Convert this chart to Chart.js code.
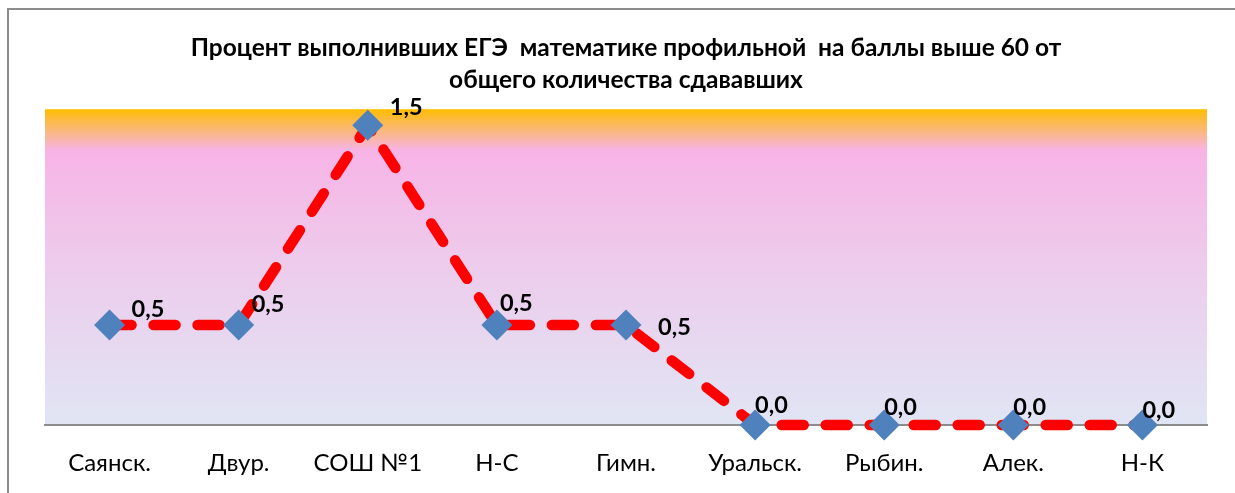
<!DOCTYPE html>
<html>
<head>
<meta charset="utf-8">
<script src="https://cdn.jsdelivr.net/npm/chart.js@4.4.1/dist/chart.umd.min.js"></script>
<style>
  html, body { margin: 0; padding: 0; background: #fff; overflow: hidden; }
  #wrap { position: relative; width: 1235px; height: 493px; }
  #frame { position: absolute; left: 7px; top: 8px; width: 1226px; height: 483px;
           border-left: 2px solid #8c8c8c; border-top: 2px solid #8c8c8c; }
  canvas { position: absolute; left: 0; top: 0; }
</style>
</head>
<body>
<div id="wrap">
  <div id="frame"></div>
  <canvas id="myChart" width="1235" height="493"></canvas>
</div>
<script>
const schools = ['Саянск.', 'Двур.', 'СОШ №1', 'Н-С', 'Гимн.', 'Уральск.', 'Рыбин.', 'Алек.', 'Н-К'];
const percents = [0.5, 0.5, 1.5, 0.5, 0.5, 0.0, 0.0, 0.0, 0.0];
const titleLines = ['Процент выполнивших ЕГЭ  математике профильной  на баллы выше 60 от', 'общего количества сдававших'];

// where each value label sits relative to its marker
const labelShift = [[22, -16], [13, -21], [22, -18], [3, -22], [32, 2], [0, -20], [0, -18], [0, -18], [0, -15]];

const ctx = document.getElementById('myChart');

const plotBackground = {
    id: 'plotBackground',
    beforeDraw(chart) {
        const {ctx, chartArea: a} = chart;
        const g = ctx.createLinearGradient(0, a.top, 0, a.bottom);
        g.addColorStop(0, '#FFBE00');
        g.addColorStop(0.03, '#FDBA3A');
        g.addColorStop(0.13, '#F7B4E6');
        g.addColorStop(0.5, '#EDCCEC');
        g.addColorStop(1, '#E0E5F4');
        ctx.save();
        ctx.fillStyle = g;
        ctx.fillRect(a.left, a.top, a.right - a.left, a.bottom - a.top);
        ctx.restore();
    }
};

const valueLabels = {
    id: 'valueLabels',
    afterDatasetsDraw(chart) {
        const ctx = chart.ctx;
        const meta = chart.getDatasetMeta(0);
        ctx.save();
        ctx.font = 'bold 23.5px Lato';
        ctx.fillStyle = '#000';
        ctx.textBaseline = 'middle';
        ctx.textAlign = 'left';
        meta.data.forEach((pt, i) => {
            const txt = percents[i].toFixed(1).replace('.', ',');
            ctx.fillText(txt, pt.x + labelShift[i][0], pt.y + labelShift[i][1]);
        });
        ctx.restore();
    }
};

const chart = new Chart(ctx, {
    type: 'line',
    data: {
        labels: schools,
        datasets: [{
            data: percents,
            borderColor: '#FF0000',
            borderWidth: 10.5,
            borderDash: [22, 22],
            borderCapStyle: 'round',
            borderJoinStyle: 'round',
            tension: 0,
            clip: false,
            pointStyle: 'rectRot',
            pointRadius: 15.5,
            pointHoverRadius: 15.5,
            pointBackgroundColor: '#4F81BD',
            pointBorderWidth: 0
        }]
    },
    options: {
        responsive: false,
        animation: false,
        layout: {
            autoPadding: false,
            padding: {left: 45, right: 28, top: 0, bottom: 16}
        },
        plugins: {
            legend: {display: false},
            tooltip: {enabled: false},
            title: {
                display: true,
                text: titleLines,
                color: '#000',
                font: {family: 'Lato', size: 24.5, weight: 'bold', lineHeight: 1.31},
                padding: {top: 32, bottom: 13}
            }
        },
        scales: {
            x: {
                offset: true,
                grid: {display: false, drawTicks: false},
                border: {display: true, color: '#8c8c8c', width: 2},
                ticks: {color: '#000', padding: 24, font: {family: 'Lato', size: 24}},
                afterFit(scale) { scale.height = 52; }
            },
            y: {
                display: false,
                min: 0,
                max: 1.58
            }
        }
    },
    plugins: [plotBackground, valueLabels]
});
</script>
</body>
</html>
